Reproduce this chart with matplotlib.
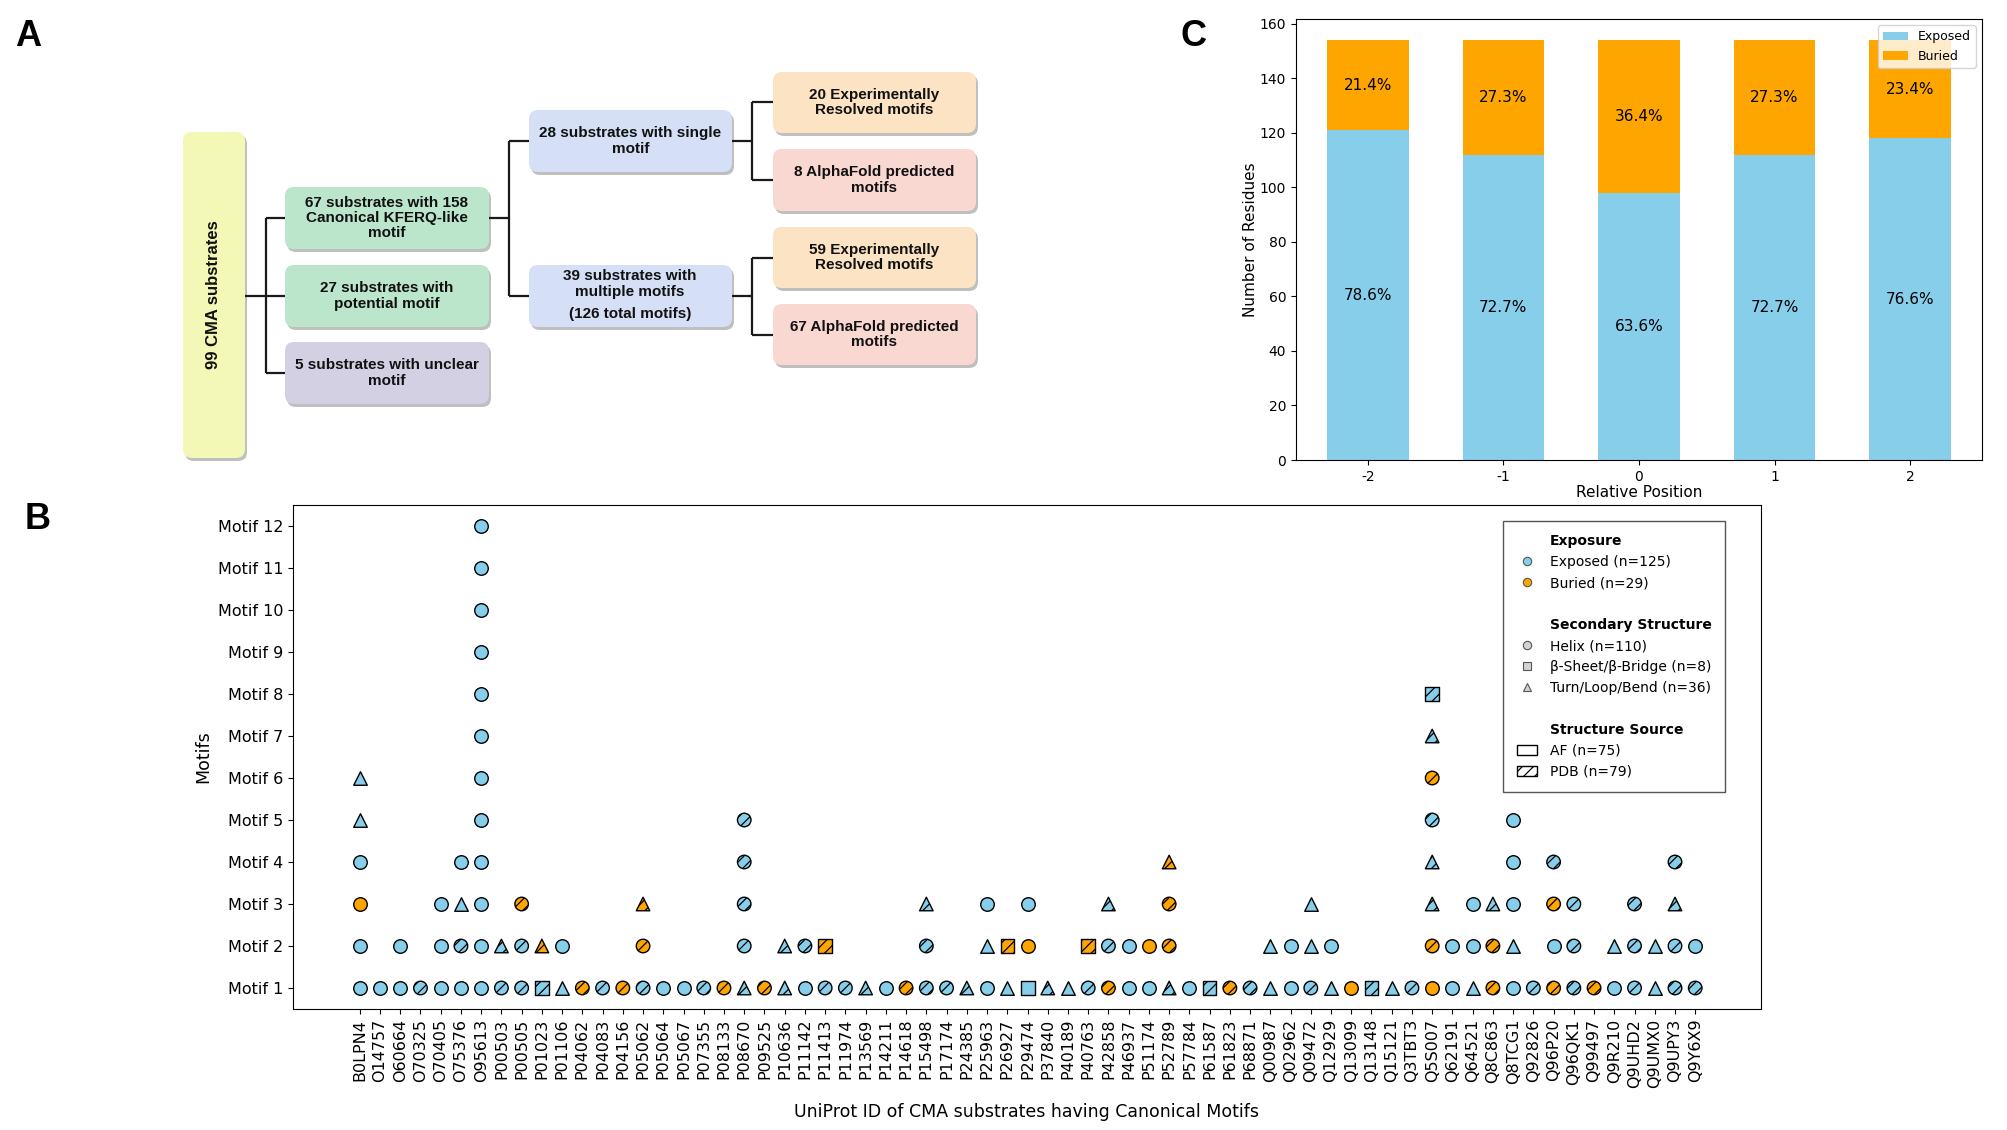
import matplotlib
matplotlib.use('Agg')
import matplotlib.pyplot as plt
from matplotlib.patches import FancyBboxPatch, Patch
from matplotlib.lines import Line2D
import pandas as pd

plt.rcParams['font.family'] = ['DejaVu Sans']
plt.rcParams['hatch.color'] = 'black'
plt.rcParams['hatch.linewidth'] = 0.9

BLUE = '#87CEEB'
ORANGE = '#FFA500'

# ---------------- panel C data ----------------
rel_positions = ['-2', '-1', '0', '1', '2']
exposed_counts = [121, 112, 98, 112, 118]
buried_counts = [33, 42, 56, 42, 36]

# ---------------- panel B data ----------------
# code = exposure (E/B) + structure (H helix, S sheet, T turn) + source (A AlphaFold, P PDB)
proteins = ["B0LPN4", "O14757", "O60664", "O70325", "O70405", "O75376", "O95613", "P00503",
            "P00505", "P01023", "P01106", "P04062", "P04083", "P04156", "P05062", "P05064",
            "P05067", "P07355", "P08133", "P08670", "P09525", "P10636", "P11142", "P11413",
            "P11974", "P13569", "P14211", "P14618", "P15498", "P17174", "P24385", "P25963",
            "P26927", "P29474", "P37840", "P40189", "P40763", "P42858", "P46937", "P51174",
            "P52789", "P57784", "P61587", "P61823", "P68871", "Q00987", "Q02962", "Q09472",
            "Q12929", "Q13099", "Q13148", "Q15121", "Q3TBT3", "Q5S007", "Q62191", "Q64521",
            "Q8C863", "Q8TCG1", "Q92826", "Q96P20", "Q96QK1", "Q99497", "Q9R210", "Q9UHD2",
            "Q9UMX0", "Q9UPY3", "Q9Y6X9"]

motif1_ids = proteins
motif1_codes = ["EHA", "EHA", "EHA", "EHP", "EHA", "EHA", "EHA", "EHP", "EHP", "ESP", "ETA",
                "BHP", "EHP", "BHP", "EHP", "EHA", "EHA", "EHP", "BHP", "ETP", "BHP", "ETP",
                "EHA", "EHP", "EHP", "ETP", "EHA", "BHP", "EHP", "EHP", "ETP", "EHA", "ETA",
                "ESA", "ETP", "ETA", "EHP", "BHP", "EHA", "EHA", "ETP", "EHA", "ESP", "BHP",
                "EHP", "ETA", "EHA", "EHP", "ETA", "BHA", "ESP", "ETA", "EHP", "BHA", "EHA",
                "ETA", "BHP", "EHA", "EHP", "BHP", "EHP", "BHP", "EHA", "EHP", "ETA", "EHP",
                "EHP"]

motif2_ids = ["B0LPN4", "O60664", "O70405", "O75376", "O95613", "P00503", "P00505", "P01023",
              "P01106", "P05062", "P08670", "P10636", "P11142", "P11413", "P15498", "P25963",
              "P26927", "P29474", "P40763", "P42858", "P46937", "P51174", "P52789", "Q00987",
              "Q02962", "Q09472", "Q12929", "Q5S007", "Q62191", "Q64521", "Q8C863", "Q8TCG1",
              "Q96P20", "Q96QK1", "Q9R210", "Q9UHD2", "Q9UMX0", "Q9UPY3", "Q9Y6X9"]
motif2_codes = ["EHA", "EHA", "EHA", "EHP", "EHA", "ETP", "EHP", "BTP", "EHA", "BHP", "EHP",
                "ETP", "EHP", "BSP", "EHP", "ETA", "BSP", "BHA", "BSP", "EHP", "EHA", "BHA",
                "BHP", "ETA", "EHA", "ETA", "EHA", "BHP", "EHA", "EHA", "BHP", "ETA", "EHA",
                "EHP", "ETA", "EHP", "ETA", "EHP", "EHA"]

motif3_ids = ["B0LPN4", "O70405", "O75376", "O95613", "P00505", "P05062", "P08670", "P15498",
              "P25963", "P29474", "P42858", "P52789", "Q09472", "Q5S007", "Q64521", "Q8C863",
              "Q8TCG1", "Q96P20", "Q96QK1", "Q9UHD2", "Q9UPY3"]
motif3_codes = ["BHA", "EHA", "ETA", "EHA", "BHP", "BTP", "EHP", "ETP", "EHA", "EHA", "ETP",
                "BHP", "ETA", "ETP", "EHA", "ETP", "EHA", "BHP", "EHP", "EHP", "ETP"]

motif4_ids = ["B0LPN4", "O75376", "O95613", "P08670", "P52789", "Q5S007", "Q8TCG1", "Q96P20", "Q9UPY3"]
motif4_codes = ["EHA", "EHA", "EHA", "EHP", "BTP", "ETP", "EHA", "EHP", "EHP"]

motif5_ids = ["B0LPN4", "O95613", "P08670", "Q5S007", "Q8TCG1"]
motif5_codes = ["ETA", "EHA", "EHP", "EHP", "EHA"]

motif6_ids = ["B0LPN4", "O95613", "Q5S007", "Q8TCG1"]
motif6_codes = ["ETA", "EHA", "BHP", "EHA"]

motif7_ids = ["O95613", "Q5S007", "Q8TCG1"]
motif7_codes = ["EHA", "ETP", "EHA"]

motif8_ids = ["O95613", "Q5S007"]
motif8_codes = ["EHA", "ESP"]

motif9_ids, motif9_codes = ["O95613"], ["EHA"]
motif10_ids, motif10_codes = ["O95613"], ["EHA"]
motif11_ids, motif11_codes = ["O95613"], ["EHA"]
motif12_ids, motif12_codes = ["O95613"], ["EHA"]

motif_lists = [(motif1_ids, motif1_codes), (motif2_ids, motif2_codes), (motif3_ids, motif3_codes),
               (motif4_ids, motif4_codes), (motif5_ids, motif5_codes), (motif6_ids, motif6_codes),
               (motif7_ids, motif7_codes), (motif8_ids, motif8_codes), (motif9_ids, motif9_codes),
               (motif10_ids, motif10_codes), (motif11_ids, motif11_codes), (motif12_ids, motif12_codes)]

rows = []
for m, (ids, codes) in enumerate(motif_lists, start=1):
    for pid, code in zip(ids, codes):
        rows.append({"protein": pid, "motif": m, "exp": code[0], "ss": code[1], "src": code[2]})
df = pd.DataFrame(rows)
df["x"] = df["protein"].map({p: i for i, p in enumerate(proteins)})

fig = plt.figure(figsize=(20.08, 11.30), dpi=100)

# ---------------- panel A : flow chart (pixel coordinates) ----------------
axA = fig.add_axes([0, 0, 1, 1])
axA.set_xlim(0, 2008)
axA.set_ylim(1130, 0)
axA.axis('off')

flow_font = dict(family=['Liberation Sans', 'DejaVu Sans'], fontweight='bold', fontsize=11,
                 ha='center', va='center', linespacing=1.1, color='#111111')


def draw_box(x0, y0, x1, y1, color, label=None):
    sh = FancyBboxPatch((x0 + 2, y0 + 3), x1 - x0, y1 - y0,
                        boxstyle='round,pad=0,rounding_size=9', fc='#8c8c8c', ec='none', alpha=0.55)
    bx = FancyBboxPatch((x0, y0), x1 - x0, y1 - y0,
                        boxstyle='round,pad=0,rounding_size=9', fc=color, ec='none')
    axA.add_patch(sh)
    axA.add_patch(bx)
    if label is not None:
        axA.text((x0 + x1) / 2, (y0 + y1) / 2, label, **flow_font)


def bracket(x_from, y_from, x_mid, x_to, ys):
    kw = dict(color='#1a1a1a', lw=1.6, solid_capstyle='butt')
    axA.plot([x_from, x_mid], [y_from, y_from], **kw)
    axA.plot([x_mid, x_mid], [min(ys), max(ys)], **kw)
    for y in ys:
        axA.plot([x_mid, x_to], [y, y], **kw)


bracket(245, 296, 266, 285, [218, 296, 373])
bracket(489, 218, 509, 529, [141, 296])
bracket(732, 141, 752, 773, [102, 180])
bracket(732, 296, 752, 773, [258, 335])

draw_box(183, 132, 245, 458, '#F3F8B6')
axA.text(214, 295, '99 CMA substrates', rotation=90,
         **{**flow_font, 'fontsize': 12})
draw_box(285, 187, 489, 249, '#BCE6CB', '67 substrates with 158\nCanonical KFERQ-like\nmotif')
draw_box(285, 265, 489, 327, '#BCE6CB', '27 substrates with\npotential motif')
draw_box(285, 342, 489, 404, '#D3D0E3', '5 substrates with unclear\nmotif')
draw_box(529, 110, 732, 172, '#D5E0F6', '28 substrates with single\nmotif')
draw_box(529, 265, 732, 327, '#D5E0F6')
axA.text(630, 284, '39 substrates with\nmultiple motifs', **flow_font)
axA.text(630, 314, '(126 total motifs)', **flow_font)
draw_box(773, 72, 976, 133, '#FBE3C4', '20 Experimentally\nResolved motifs')
draw_box(773, 149, 976, 211, '#F9D8D2', '8 AlphaFold predicted\nmotifs')
draw_box(773, 227, 976, 288, '#FBE3C4', '59 Experimentally\nResolved motifs')
draw_box(773, 304, 976, 365, '#F9D8D2', '67 AlphaFold predicted\nmotifs')

# ---------------- panel C : stacked bars ----------------
axC = fig.add_axes([1296 / 2008, 1 - 460 / 1130, (1982 - 1296) / 2008, (460 - 19) / 1130])
xpos = list(range(len(rel_positions)))
axC.bar(xpos, exposed_counts, 0.6, color=BLUE, label='Exposed')
axC.bar(xpos, buried_counts, 0.6, bottom=exposed_counts, color=ORANGE, label='Buried')
for i, (e, b) in enumerate(zip(exposed_counts, buried_counts)):
    tot = e + b
    axC.text(i, e / 2, f'{e / tot * 100:.1f}%', ha='center', va='center', fontsize=11)
    axC.text(i, e + b / 2, f'{b / tot * 100:.1f}%', ha='center', va='center', fontsize=11)
axC.set_xticks(xpos)
axC.set_xticklabels(rel_positions)
axC.tick_params(labelsize=10)
axC.set_xlabel('Relative Position', fontsize=11, labelpad=1)
axC.set_ylabel('Number of Residues', fontsize=11, labelpad=1)
axC.legend(loc='upper right', fontsize=9)

# ---------------- panel B : motif map ----------------
axB = fig.add_axes([293 / 2008, 1 - 1009 / 1130, (1761 - 293) / 2008, (1009 - 505) / 1130])
color_map = {'E': BLUE, 'B': ORANGE}
marker_map = {'H': 'o', 'S': 's', 'T': '^'}
hatch_map = {'A': None, 'P': '///'}
for (e, s, src), g in df.groupby(['exp', 'ss', 'src']):
    axB.scatter(g['x'], g['motif'], s=95, c=color_map[e], marker=marker_map[s],
                edgecolors='black', linewidths=1.0, hatch=hatch_map[src], zorder=3)

axB.set_xlim(-3.3, 69.25)
axB.set_ylim(0.5, 12.5)
axB.set_xticks(range(len(proteins)))
axB.set_xticklabels(proteins, rotation=90)
axB.set_yticks(range(1, 13))
axB.set_yticklabels([f'Motif {i}' for i in range(1, 13)])
axB.tick_params(labelsize=11.5)
axB.set_xlabel('UniProt ID of CMA substrates having Canonical Motifs', fontsize=12.5, labelpad=11)
axB.set_ylabel('Motifs', fontsize=12.5)

n_exp = int((df['exp'] == 'E').sum())
n_bur = int((df['exp'] == 'B').sum())
n_hel = int((df['ss'] == 'H').sum())
n_sht = int((df['ss'] == 'S').sum())
n_trn = int((df['ss'] == 'T').sum())
n_af = int((df['src'] == 'A').sum())
n_pdb = int((df['src'] == 'P').sum())

blank = Line2D([], [], ls='none')
gkw = dict(ls='none', mfc='#d3d3d3', mec='#555555', mew=0.8, ms=6)
handles = [
    blank,
    Line2D([], [], marker='o', ls='none', mfc=BLUE, mec='#555555', mew=0.8, ms=6),
    Line2D([], [], marker='o', ls='none', mfc=ORANGE, mec='#555555', mew=0.8, ms=6),
    blank, blank,
    Line2D([], [], marker='o', **gkw),
    Line2D([], [], marker='s', **gkw),
    Line2D([], [], marker='^', **gkw),
    blank, blank,
    Patch(facecolor='white', edgecolor='black'),
    Patch(facecolor='white', edgecolor='black', hatch='///'),
]
labels = ['Exposure', f'Exposed (n={n_exp})', f'Buried (n={n_bur})', '',
          'Secondary Structure', f'Helix (n={n_hel})', f'β-Sheet/β-Bridge (n={n_sht})',
          f'Turn/Loop/Bend (n={n_trn})', '',
          'Structure Source', f'AF (n={n_af})', f'PDB (n={n_pdb})']
leg = axB.legend(handles, labels, loc='upper right', bbox_to_anchor=(0.9755, 0.968),
                 borderaxespad=0, fontsize=10, handlelength=1.5, handletextpad=0.9,
                 borderpad=0.95, fancybox=False, framealpha=1, edgecolor='#555555')
leg.set_zorder(10)
for t in leg.get_texts():
    if t.get_text() in ('Exposure', 'Secondary Structure', 'Structure Source'):
        t.set_fontweight('bold')

# ---------------- panel letters ----------------
letter_kw = dict(fontsize=26, fontweight='bold', family=['Liberation Sans', 'DejaVu Sans'],
                 ha='center', va='center')
fig.text(28 / 2008, 1 - 37 / 1130, 'A', **letter_kw)
fig.text(38 / 2008, 1 - 519 / 1130, 'B', **letter_kw)
fig.text(1194 / 2008, 1 - 37 / 1130, 'C', **letter_kw)

fig.savefig('out.png', dpi=100)
